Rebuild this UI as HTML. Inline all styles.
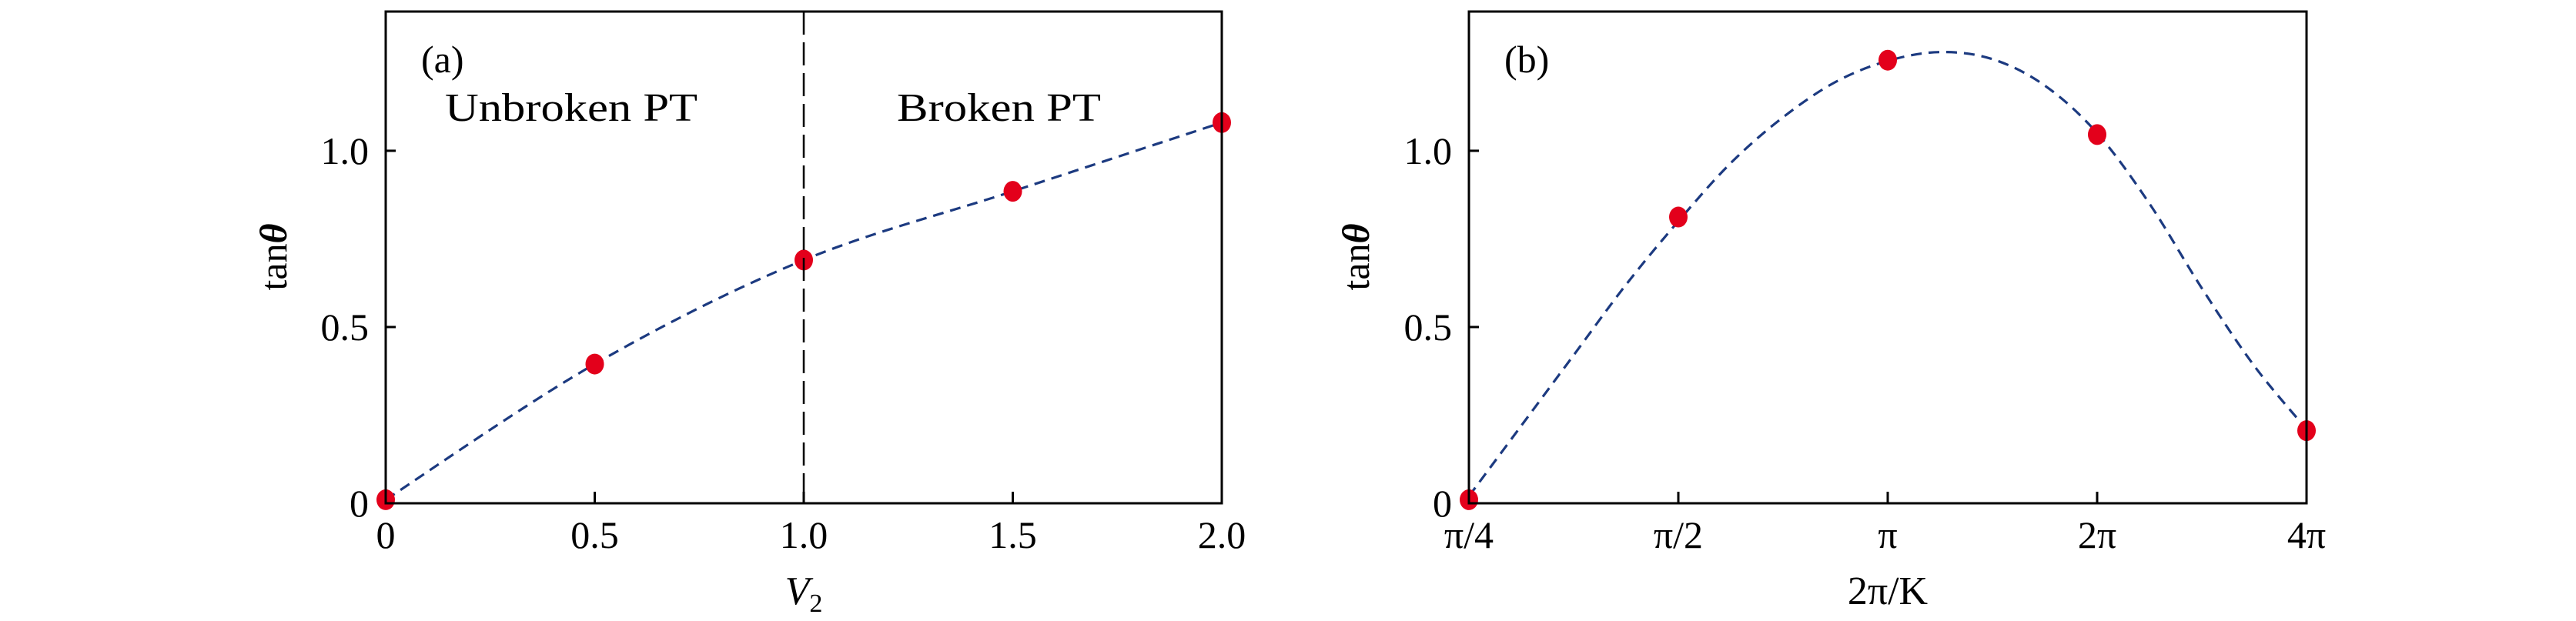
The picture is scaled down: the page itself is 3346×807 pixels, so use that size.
<!DOCTYPE html>
<html><head><meta charset="utf-8"><style>
html,body{margin:0;padding:0;background:#fff;}
svg{display:block;}
text{font-family:"Liberation Serif","DejaVu Serif",serif;fill:#000;}
</style></head><body>
<svg id="fig" width="3346" height="807" viewBox="0 0 3346 807" xmlns="http://www.w3.org/2000/svg"></svg>
<script>
// Panel (a) data
const aX = [0, 0.5, 1.0, 1.5, 2.0];
const aY = [0.01, 0.395, 0.69, 0.885, 1.08];
const aXTicks = [0, 0.5, 1.0, 1.5, 2.0];
const aXTickLabels = ["0", "0.5", "1.0", "1.5", "2.0"];
const yTicks = [0, 0.5, 1.0];
const yTickLabels = ["0", "0.5", "1.0"];
// Panel (b) data
const bCats = ["π/4", "π/2", "π", "2π", "4π"];
const bY = [0.01, 0.812, 1.257, 1.046, 0.206];
const bCurveIdx = [0, 0.25, 0.5, 0.75, 1, 1.25, 1.5, 1.75, 2, 2.25, 2.5, 2.75, 3, 3.25, 3.5, 3.75, 4];
const bCurveY = [0.02, 0.22, 0.42, 0.62, 0.80, 0.965, 1.095, 1.195, 1.255, 1.28, 1.26, 1.185, 1.05, 0.85, 0.61, 0.39, 0.21];

const NS = "http://www.w3.org/2000/svg";
const svg = document.getElementById("fig");
function mk(tag, attrs, parent) {
  const e = document.createElementNS(NS, tag);
  for (const k in attrs) e.setAttribute(k, attrs[k]);
  (parent || svg).appendChild(e);
  return e;
}
const TOP = 15, BOT = 654, YMAX = 1.395;
function yS(v) { return BOT - v / YMAX * (BOT - TOP); }

function catmull(pts) {
  let d = "M" + pts[0][0] + "," + pts[0][1];
  for (let i = 0; i < pts.length - 1; i++) {
    const p0 = pts[Math.max(0, i - 1)], p1 = pts[i], p2 = pts[i + 1], p3 = pts[Math.min(pts.length - 1, i + 2)];
    const c1 = [p1[0] + (p2[0] - p0[0]) / 6, p1[1] + (p2[1] - p0[1]) / 6];
    const c2 = [p2[0] - (p3[0] - p1[0]) / 6, p2[1] - (p3[1] - p1[1]) / 6];
    d += " C" + c1[0] + "," + c1[1] + " " + c2[0] + "," + c2[1] + " " + p2[0] + "," + p2[1];
  }
  return d;
}

function panel(L, R, xS, xTickVals, xTickLabs, curvePts, ptsX, ptsY, xTitle, tag, ylabX, name) {
  const g = mk("g", {});
  
  
  yTicks.forEach((v, i) => {
    const t = mk("line", {x1: L, x2: L + 13, y1: yS(v), y2: yS(v), stroke: "#000", "stroke-width": 3}, g);
    
    
    const tx = mk("text", {x: L - 22, y: yS(v) + 17, "text-anchor": "end", "font-size": 50}, g);
    tx.textContent = yTickLabels[i];
    
    
  });
  xTickVals.forEach((v, i) => {
    const x = xS(v);
    const t = mk("line", {x1: x, x2: x, y1: BOT, y2: BOT - 15, stroke: "#000", "stroke-width": 3}, g);
    
    
    const tx = mk("text", {x: x, y: 712, "text-anchor": "middle", "font-size": 50}, g);
    tx.textContent = xTickLabs[i];
    
    
  });
  const c = mk("path", {d: catmull(curvePts), fill: "none", stroke: "#1c3a80", "stroke-width": 3.2, "stroke-dasharray": "14 9"}, g);
  
  
  ptsX.forEach((v, i) => {
    const p = mk("ellipse", {cx: xS(v), cy: yS(ptsY[i]), rx: 12, ry: 13.5, fill: "#e3001b"}, g);
    
    
  });
  const fr = mk("rect", {x: L, y: TOP, width: R - L, height: BOT - TOP, fill: "none", stroke: "#000", "stroke-width": 3}, g);
  
  
  const xt = mk("text", {x: (L + R) / 2, y: 785, "text-anchor": "middle", "font-size": 52}, g);
  xt.innerHTML = xTitle;
  
  
  const yt = mk("text", {x: 0, y: 0, "text-anchor": "middle", "font-size": 50, transform: "translate(" + ylabX + ",334) rotate(-90)"}, g);
  yt.innerHTML = 'tan<tspan font-style="italic" font-weight="bold">θ</tspan>';
  
  
  const pl = mk("text", {x: L + 46, y: 94, "font-size": 50}, g);
  pl.textContent = tag;
  
  
  return g;
}

// Panel (a)
const aL = 501, aR = 1587;
const axS = v => aL + v / 2.0 * (aR - aL);
const ga = panel(aL, aR, axS, aXTicks, aXTickLabels, aX.map((v, i) => [axS(v), yS(aY[i])]), aX, aY,
  '<tspan font-style="italic">V</tspan><tspan font-size="34" dy="10">2</tspan>', "(a)", 372, "panel-a");
const vl = mk("line", {x1: axS(1.0), x2: axS(1.0), y1: TOP, y2: BOT, stroke: "#000", "stroke-width": 2.5, "stroke-dasharray": "30 10"}, ga);


const t1 = mk("text", {x: 578, y: 157, "font-size": 52, textLength: 328, lengthAdjust: "spacingAndGlyphs"}, ga);
t1.textContent = "Unbroken PT";


const t2 = mk("text", {x: 1165, y: 157, "font-size": 52, textLength: 265, lengthAdjust: "spacingAndGlyphs"}, ga);
t2.textContent = "Broken PT";



// Panel (b)
const bL = 1908, bR = 2996;
const bxS = i => bL + i / 4 * (bR - bL);
panel(bL, bR, bxS, [0, 1, 2, 3, 4], bCats, bCurveIdx.map((v, i) => [bxS(v), yS(bCurveY[i])]), [0, 1, 2, 3, 4], bY,
  '2π/K', "(b)", 1778, "panel-b");
</script>
</body></html>
